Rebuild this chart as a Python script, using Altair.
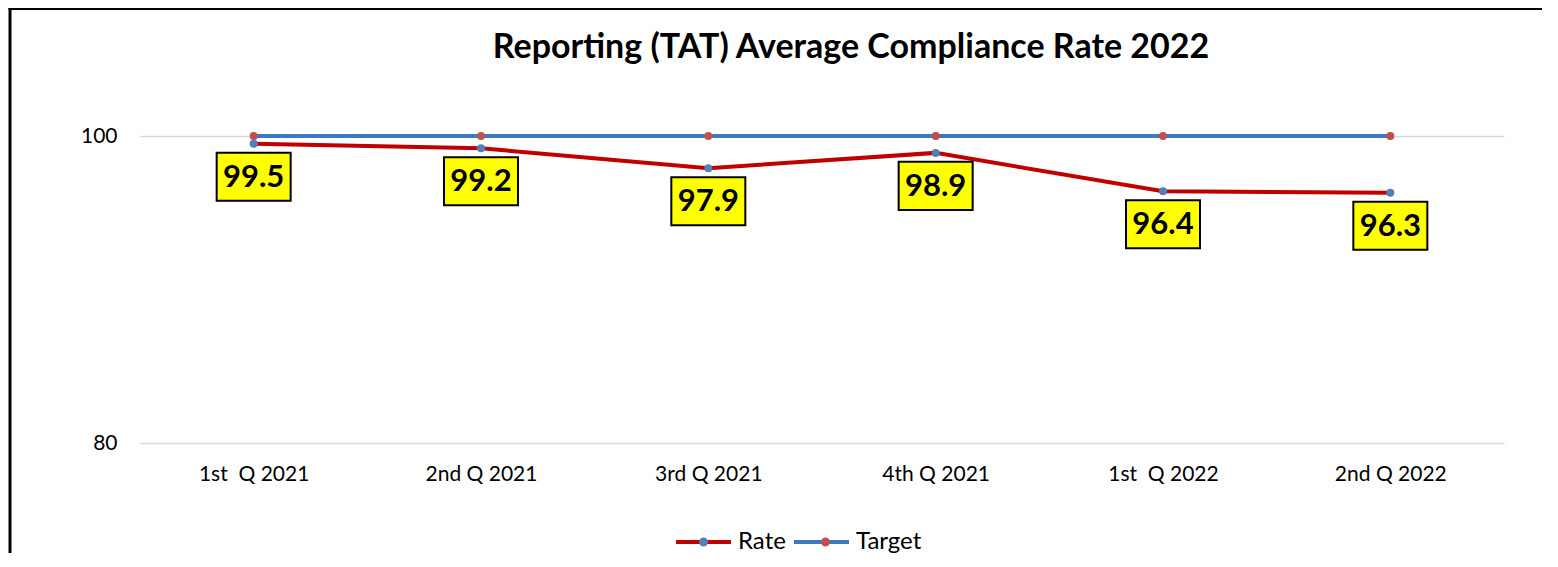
import altair as alt
import pandas as pd

# ---- data ----
quarters = ["1st\u00a0 Q 2021", "2nd Q 2021", "3rd Q 2021", "4th Q 2021", "1st\u00a0 Q 2022", "2nd Q 2022"]
rate = [99.5, 99.2, 97.9, 98.9, 96.4, 96.3]
target = [100, 100, 100, 100, 100, 100]
series_names = ["Rate", "Target"]
line_colors = ["#C00000", "#3A7AC2"]
marker_colors = ["#4F81BD", "#C0504D"]
y_ticks = [80, 100]
y_domain = [80, 100]
title_text = "Reporting (TAT) Average Compliance Rate 2022"

rows = []
for q, r, t in zip(quarters, rate, target):
    rows.append({"quarter": q, "series": "Rate", "marker": "Rate", "value": r})
    rows.append({"quarter": q, "series": "Target", "marker": "Target", "value": t})
df = pd.DataFrame(rows)
rate_df = pd.DataFrame({"quarter": quarters, "value": rate})
frame_df = pd.DataFrame({"k": [0]})

FONT = "Lato"
PLOT_W, PLOT_H = 1364, 307
PAD_L, PAD_T, PAD_R, PAD_B = 132, 128, 38, 110
LEG_X, LEG_Y = 534, 394

x_enc = alt.X(
    "quarter:N",
    sort=quarters,
    scale=alt.Scale(type="point", padding=0.5),
    axis=alt.Axis(
        title=None, domain=False, ticks=False, grid=False, labelAngle=0,
        labelFont=FONT, labelFontSize=21, labelColor="#000000", labelPadding=20,
    ),
)
y_enc = alt.Y(
    "value:Q",
    scale=alt.Scale(domain=y_domain, nice=False, zero=False),
    axis=alt.Axis(
        title=None, domain=False, ticks=False, values=y_ticks, grid=True,
        gridColor="#D9D9D9", gridWidth=1.3,
        labelFont=FONT, labelFontSize=21, labelColor="#000000", labelPadding=23,
    ),
)

base = alt.Chart(df)

# legend symbol: a 55px line (symbol box 20px wide, path reaches past it)
line_path = "M-1,0L4.5,0"
circle_path = "M1.3,0A0.45,0.45,0,1,0,2.2,0A0.45,0.45,0,1,0,1.3,0Z"

lines = base.mark_line(strokeWidth=4).encode(
    x=x_enc,
    y=y_enc,
    stroke=alt.Stroke(
        "series:N",
        scale=alt.Scale(domain=series_names, range=line_colors),
        legend=alt.Legend(
            orient="none", legendX=LEG_X, legendY=LEG_Y, direction="horizontal",
            title=None, symbolType=line_path, symbolSize=400, symbolStrokeWidth=4,
            labelFont=FONT, labelFontSize=24, labelColor="#000000", labelOffset=40,
            columnPadding=0, padding=0,
        ),
    ),
)

points = base.mark_circle(size=64, opacity=1).encode(
    x=alt.X("quarter:N", sort=quarters),
    y="value:Q",
    fill=alt.Fill(
        "marker:N",
        scale=alt.Scale(domain=series_names, range=marker_colors),
        legend=alt.Legend(
            orient="none", legendX=LEG_X, legendY=LEG_Y, direction="horizontal",
            title=None, symbolType=circle_path, symbolSize=400, symbolStrokeWidth=0,
            labelExpr="''", labelFont=FONT, labelFontSize=24, labelOffset=40,
            columnPadding=58, padding=0,
        ),
    ),
)

box_path = "M-1,-0.649L1,-0.649L1,0.649L-1,0.649Z"
boxes = alt.Chart(rate_df).mark_point(
    shape=box_path, size=74 * 74, filled=True, fill="#FFFF00", stroke="#000000",
    strokeWidth=2, opacity=1, yOffset=33,
).encode(x=alt.X("quarter:N", sort=quarters), y="value:Q")

labels = alt.Chart(rate_df).mark_text(
    font=FONT, fontSize=31, fontWeight="bold", color="#000000",
    baseline="middle", yOffset=34,
).encode(x=alt.X("quarter:N", sort=quarters), y="value:Q", text=alt.Text("value:Q", format=".1f"))

# chart frame (outer border) and title, placed in the padding area
frame_left = alt.Chart(frame_df).mark_rule(color="#000000", strokeWidth=3).encode(
    x=alt.value(-130), y=alt.value(-130), y2=alt.value(PLOT_H + PAD_B)
)
frame_top = alt.Chart(frame_df).mark_rule(color="#000000", strokeWidth=3).encode(
    x=alt.value(-131.5), x2=alt.value(PLOT_W + PAD_R), y=alt.value(-127.5)
)
title = alt.Chart(frame_df).mark_text(
    font=FONT, fontSize=34, fontWeight="bold", color="#000000",
    align="center", baseline="alphabetic",
).encode(x=alt.value(PLOT_W / 2 + 29), y=alt.value(-78), text=alt.value(title_text))

chart = (
    alt.layer(lines, points, boxes, labels, frame_left, frame_top, title)
    .resolve_legend(stroke="independent", fill="independent")
    .properties(
        width=PLOT_W,
        height=PLOT_H,
        autosize=alt.AutoSizeParams(type="none"),
        padding={"left": PAD_L, "top": PAD_T, "right": PAD_R, "bottom": PAD_B},
        background="white",
    )
    .configure_view(strokeWidth=0, stroke="transparent")
)

chart.save("out.html", embed_options={"renderer": "svg", "actions": False})
